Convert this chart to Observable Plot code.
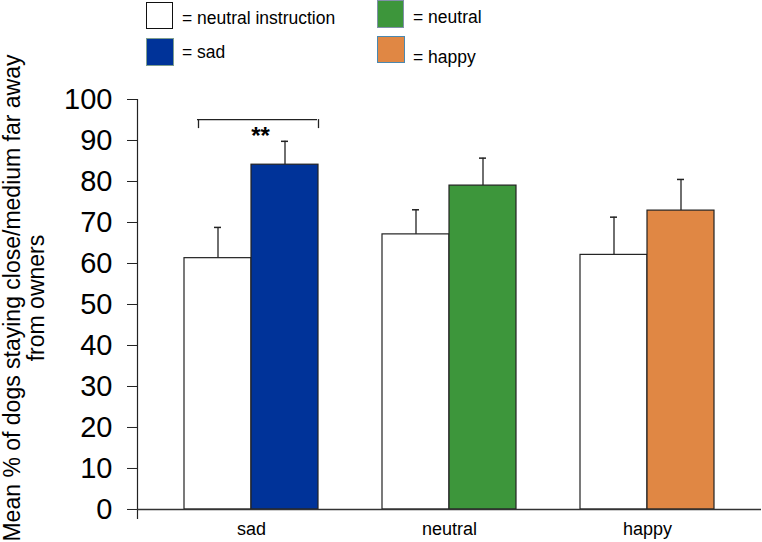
<!DOCTYPE html>
<html>
<head>
<meta charset="utf-8">
<script src="https://cdn.jsdelivr.net/npm/d3@7"></script>
<script src="https://cdn.jsdelivr.net/npm/@observablehq/plot@0.6"></script>
<style>
  body { margin: 0; background: #fff; font-family: "Liberation Sans", Arial, sans-serif; color: #000; }
  #wrap { position: relative; width: 762px; height: 542px; overflow: hidden; }
  #legend { position: relative; height: 80px; }
  .box { position: absolute; box-sizing: border-box; border: 1.5px solid #111; }
  .lt { position: absolute; font-size: 17.5px; line-height: 20px; white-space: nowrap; }
  #ylab { position: absolute; left: 24px; top: 298px; transform: translate(-50%, -50%) rotate(-90deg);
          white-space: nowrap; text-align: center; font-size: 23px; line-height: 24px; }
  #chart svg { display: block; }
</style>
</head>
<body>
<div id="wrap">
  <div id="legend"></div>
  <div id="chart"></div>
  <div id="ylab"></div>
</div>
<script>
// ---- data ----
const categories = ["sad", "neutral", "happy"];
const instructionMeans = [61.3, 67.1, 62.1];
const instructionUpper = [68.8, 73.1, 71.3];
const emotionMeans = [84.1, 79.0, 72.9];
const emotionUpper = [89.8, 85.7, 80.5];
const emotionColors = ["#003399", "#3d963b", "#e08744"];
const yTicks = [0, 10, 20, 30, 40, 50, 60, 70, 80, 90, 100];
const legendLabels = ["= neutral instruction", "= sad", "= neutral", "= happy"];
const legendFills = ["#ffffff", "#003399", "#3d963b", "#e08744"];
const yLabelLines = ["Mean % of dogs staying close/medium far away", "from owners"];
const sigCategory = "sad";
const sigText = "**";
const sigBracketTop = 95.1;
const sigBracketBottom = 92.9;
const sigTextY = 91;

// ---- rows ----
const instructionRows = categories.map((c, i) => ({category: c, mean: instructionMeans[i], upper: instructionUpper[i]}));
const emotionRows = categories.map((c, i) => ({category: c, mean: emotionMeans[i], upper: emotionUpper[i], color: emotionColors[i]}));

// ---- legend ----
const legend = document.getElementById("legend");
const legendSpec = [
  {box: {left: 146, top: 2, w: 27, h: 27, border: "#111"}, text: {left: 182, top: 8}},
  {box: {left: 146, top: 38, w: 28, h: 28, border: "#7f9f8f"}, text: {left: 182, top: 42}},
  {box: {left: 377, top: 0, w: 27, h: 28, border: "#8090a8"}, text: {left: 413, top: 7}},
  {box: {left: 377, top: 36, w: 28, h: 27, border: "#4a88b0"}, text: {left: 413, top: 47}}
];
legendSpec.forEach((s, i) => {
  const b = document.createElement("div");
  b.className = "box";
  Object.assign(b.style, {left: s.box.left + "px", top: s.box.top + "px", width: s.box.w + "px",
    height: s.box.h + "px", background: legendFills[i], borderColor: s.box.border});
  legend.appendChild(b);
  const t = document.createElement("div");
  t.className = "lt";
  t.textContent = legendLabels[i];
  Object.assign(t.style, {left: s.text.left + "px", top: s.text.top + "px"});
  legend.appendChild(t);
});

// ---- y label ----
document.getElementById("ylab").innerHTML = yLabelLines.map(l => `<div>${l}</div>`).join("");

// ---- chart ----
const half = 67;      // half of the group band width
const capInA = 30, capInB = 97;

const chart = Plot.plot({
  width: 762,
  height: 462,
  marginLeft: 137,
  marginRight: 1,
  marginTop: 19,
  marginBottom: 24,
  style: {fontFamily: "Liberation Sans, Arial, sans-serif", color: "#000", background: "#fff", overflow: "visible"},
  x: {domain: categories, paddingInner: 0.323, paddingOuter: 0.237, label: null},
  y: {domain: [-2.2, 100], label: null},
  marks: [
    // error bars (behind bars)
    Plot.ruleX(instructionRows, {x: "category", y1: "mean", y2: "upper", dx: -33.5, stroke: "#222", strokeWidth: 1.3}),
    Plot.ruleX(emotionRows, {x: "category", y1: "mean", y2: "upper", dx: 33.5, stroke: "#222", strokeWidth: 1.3}),
    Plot.tickY(instructionRows, {x: "category", y: "upper", insetLeft: capInA, insetRight: capInB, stroke: "#222", strokeWidth: 1.5}),
    Plot.tickY(emotionRows, {x: "category", y: "upper", insetLeft: capInB, insetRight: capInA, stroke: "#222", strokeWidth: 1.5}),
    // bars
    Plot.barY(instructionRows, {x: "category", y: "mean", fill: "#fff", stroke: "#222", strokeWidth: 1.2, insetRight: half}),
    Plot.barY(emotionRows, {x: "category", y: "mean", fill: "color", stroke: "#222", strokeWidth: 1.2, insetLeft: half}),
    // axes
    Plot.frame({anchor: "left", stroke: "#222", strokeWidth: 1.2}),
    Plot.ruleY([0], {stroke: "#333", strokeWidth: 1.5}),
    Plot.axisY({ticks: yTicks, tickSize: 10, tickPadding: 15, fontSize: 29, label: null, stroke: "#222"}),
    Plot.axisX({tickSize: 0, tickPadding: 4, fontSize: 18, label: null}),
    // significance bracket
    Plot.ruleY([sigBracketTop], {insetLeft: 60, insetRight: 444, stroke: "#222", strokeWidth: 1.3}),
    Plot.ruleX([{category: sigCategory}], {x: "category", y1: sigBracketBottom, y2: sigBracketTop, dx: -53, stroke: "#222", strokeWidth: 1.3}),
    Plot.ruleX([{category: sigCategory}], {x: "category", y1: sigBracketBottom, y2: sigBracketTop, dx: 67, stroke: "#222", strokeWidth: 1.3}),
    Plot.text([{category: sigCategory}], {x: "category", y: () => sigTextY, text: () => sigText, dx: 9, fontSize: 24, fontWeight: "bold"})
  ]
});
document.getElementById("chart").appendChild(chart);
</script>
</body>
</html>
